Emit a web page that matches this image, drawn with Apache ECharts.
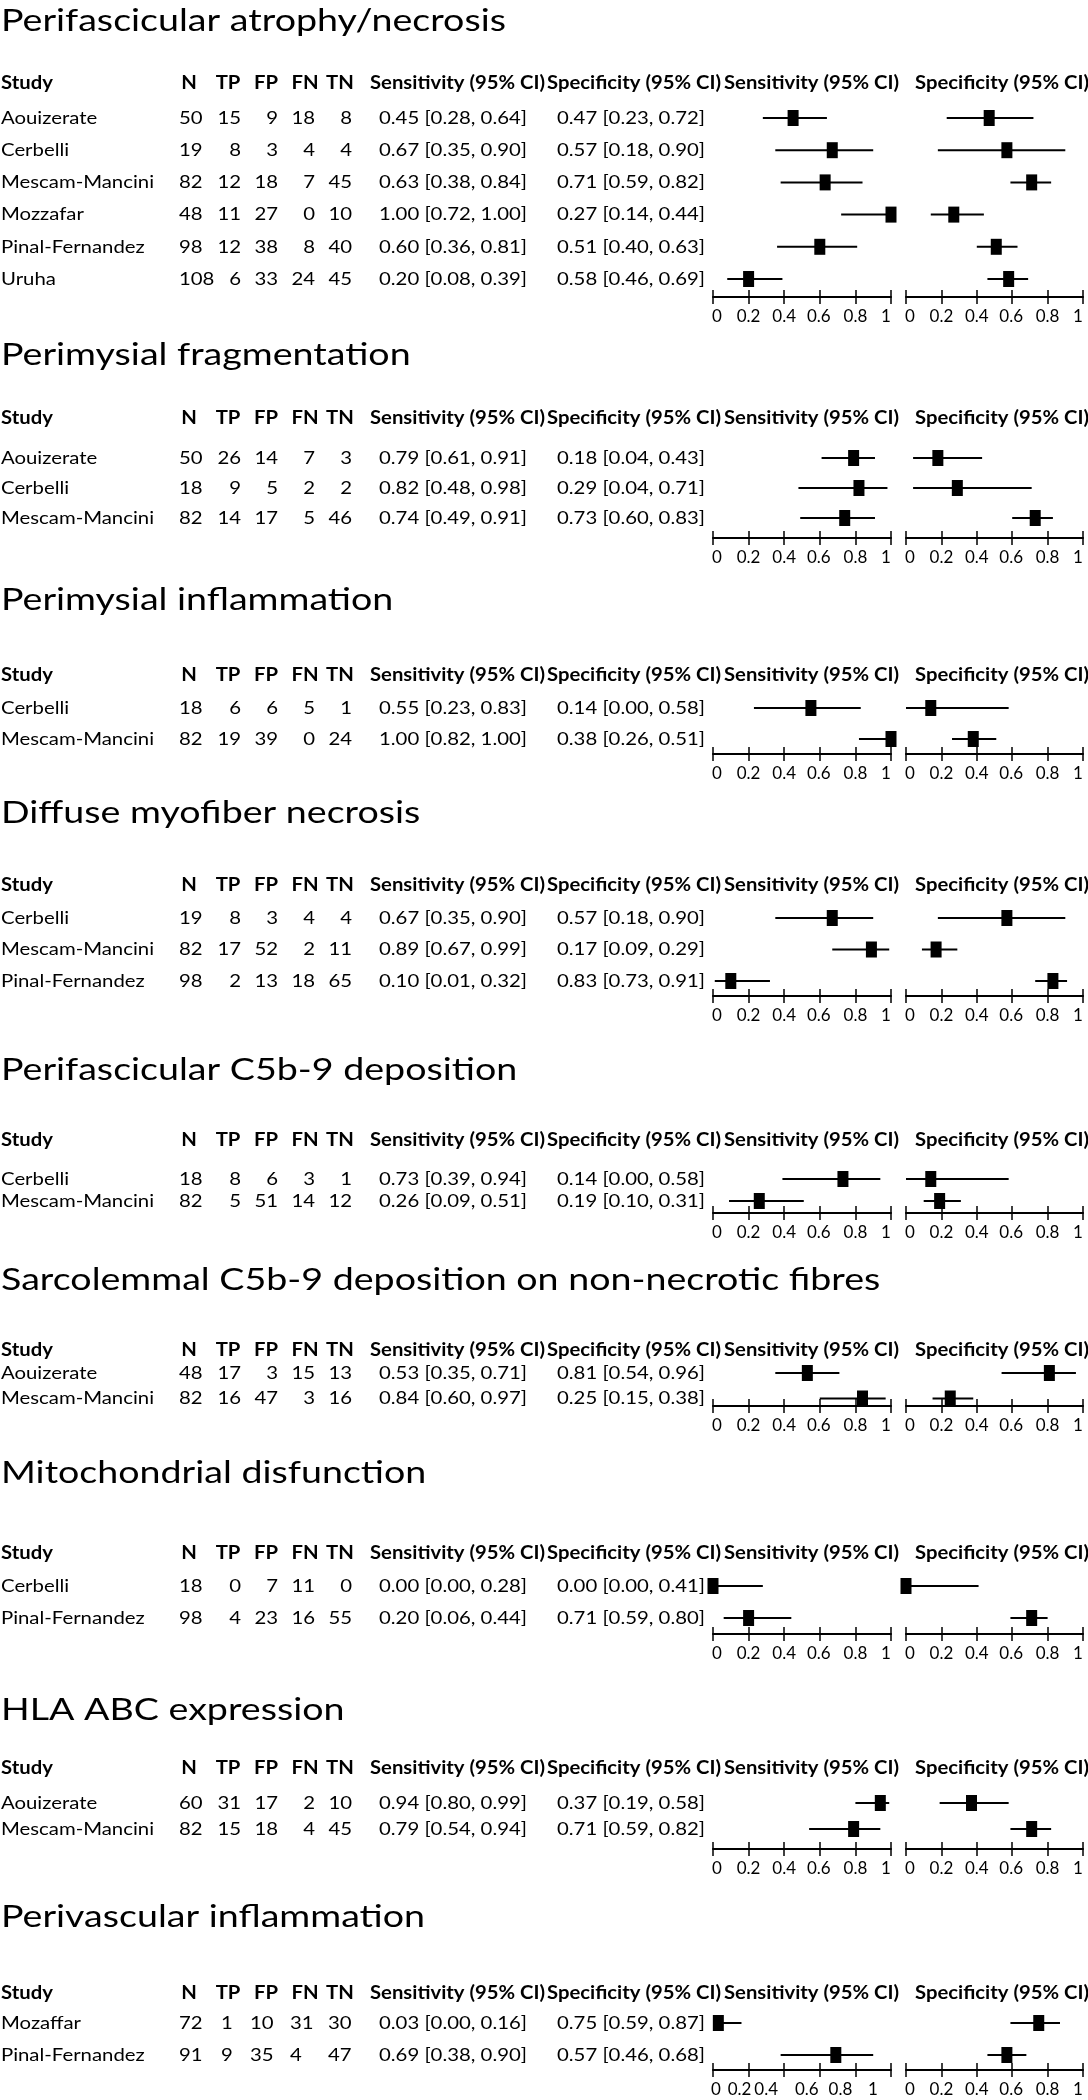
<!DOCTYPE html>
<html><head><meta charset="utf-8">
<script src="https://cdn.jsdelivr.net/npm/echarts@6/dist/echarts.min.js"></script>
<style>html,body{margin:0;padding:0;background:#fff}#c{width:1088px;height:2100px}</style>
</head><body><div id="c"></div>
<script>
// ---------- DATA ----------
const panelTitles = [
  'Perifascicular atrophy/necrosis',
  'Perimysial fragmentation',
  'Perimysial inflammation',
  'Diffuse myofiber necrosis',
  'Perifascicular C5b-9 deposition',
  'Sarcolemmal C5b-9 deposition on non-necrotic fibres',
  'Mitochondrial disfunction',
  'HLA ABC expression',
  'Perivascular inflammation'
];
const headerLabels = ['Study','N','TP','FP','FN','TN','Sensitivity (95% CI)','Specificity (95% CI)','Sensitivity (95% CI)','Specificity (95% CI)'];
const tickLabels = ['0','0.2','0.4','0.6','0.8','1'];

const rowPanel = [0,0,0,0,0,0, 1,1,1, 2,2, 3,3,3, 4,4, 5,5, 6,6, 7,7, 8,8];
const study = ['Aouizerate','Cerbelli','Mescam-Mancini','Mozzafar','Pinal-Fernandez','Uruha',
  'Aouizerate','Cerbelli','Mescam-Mancini',
  'Cerbelli','Mescam-Mancini',
  'Cerbelli','Mescam-Mancini','Pinal-Fernandez',
  'Cerbelli','Mescam-Mancini',
  'Aouizerate','Mescam-Mancini',
  'Cerbelli','Pinal-Fernandez',
  'Aouizerate','Mescam-Mancini',
  'Mozaffar','Pinal-Fernandez'];
const nTotal = [50,19,82,48,98,108, 50,18,82, 18,82, 19,82,98, 18,82, 48,82, 18,98, 60,82, 72,91];
const tp = [15,8,12,11,12,6, 26,9,14, 6,19, 8,17,2, 8,5, 17,16, 0,4, 31,15, 1,9];
const fp = [9,3,18,27,38,33, 14,5,17, 6,39, 3,52,13, 6,51, 3,47, 7,23, 17,18, 10,35];
const fn = [18,4,7,0,8,24, 7,2,5, 5,0, 4,2,18, 3,14, 15,3, 11,16, 2,4, 31,4];
const tn = [8,4,45,10,40,45, 3,2,46, 1,24, 4,11,65, 1,12, 13,16, 0,55, 10,45, 30,47];
const sens   = [0.45,0.67,0.63,1.00,0.60,0.20, 0.79,0.82,0.74, 0.55,1.00, 0.67,0.89,0.10, 0.73,0.26, 0.53,0.84, 0.00,0.20, 0.94,0.79, 0.03,0.69];
const sensLo = [0.28,0.35,0.38,0.72,0.36,0.08, 0.61,0.48,0.49, 0.23,0.82, 0.35,0.67,0.01, 0.39,0.09, 0.35,0.60, 0.00,0.06, 0.80,0.54, 0.00,0.38];
const sensHi = [0.64,0.90,0.84,1.00,0.81,0.39, 0.91,0.98,0.91, 0.83,1.00, 0.90,0.99,0.32, 0.94,0.51, 0.71,0.97, 0.28,0.44, 0.99,0.94, 0.16,0.90];
const spec   = [0.47,0.57,0.71,0.27,0.51,0.58, 0.18,0.29,0.73, 0.14,0.38, 0.57,0.17,0.83, 0.14,0.19, 0.81,0.25, 0.00,0.71, 0.37,0.71, 0.75,0.57];
const specLo = [0.23,0.18,0.59,0.14,0.40,0.46, 0.04,0.04,0.60, 0.00,0.26, 0.18,0.09,0.73, 0.00,0.10, 0.54,0.15, 0.00,0.59, 0.19,0.59, 0.59,0.46];
const specHi = [0.72,0.90,0.82,0.44,0.63,0.69, 0.43,0.71,0.83, 0.58,0.51, 0.90,0.29,0.91, 0.58,0.31, 0.96,0.38, 0.41,0.80, 0.58,0.82, 0.87,0.68];

// ---------- LAYOUT (pixels) ----------
const titleY  = [21, 355, 600, 813, 1070, 1280, 1473, 1710, 1917];
const headerY = [83, 418, 675, 885, 1140, 1350, 1553, 1768, 1993];
const row0    = [118, 458, 708, 918, 1179, 1373, 1586, 1803, 2023];
const rowStep = [32.2, 30, 31, 31.5, 22, 25.5, 32, 26, 32];
const axisY   = [297, 538, 754, 996, 1213, 1406, 1634, 1849, 2070];
const leftAlignCounts = [false,false,false,false,false,false,false,false,true];
const plotLeft = [713, 906], plotWidth = [178, 177];
// horizontal nudges of tick labels (px, + = right)
const labelShiftStd = [4, 0, 0, -1, 0, -5];
const labelShiftOdd = [3, -9, -18, -13, -15, -18];

const ctx = document.createElement('canvas').getContext('2d');
function tw(text, font){ ctx.font = font; return ctx.measureText(text).width; }
const F_T = '30px Lato', F_H = 'bold 18px Lato', F_D = '18px Lato';
const titleScale = 505 / tw(panelTitles[0], F_T);
const headScale  = 175 / tw(headerLabels[6], F_H);
const dataScale  = 148 / tw('0.45 [0.28, 0.64]', F_D);

const chart = echarts.init(document.getElementById('c'), null, {renderer:'canvas', width:1088, height:2100});
const grids=[], xAxes=[], yAxes=[], series=[], graphics=[];

function txt(text, x, y, font, align, sx){
  graphics.push({type:'text', x:x, y:y, scaleX:sx, scaleY:1, silent:true,
    style:{text:String(text), font:font, fill:'#000', align:align, verticalAlign:'middle', textAlign:align, textVerticalAlign:'middle'}});
}
function ci(v, lo, hi){ return v.toFixed(2)+' ['+lo.toFixed(2)+', '+hi.toFixed(2)+']'; }

function renderItem(params, api){
  const y = api.value(0), est = api.value(1), lo = api.value(2), hi = api.value(3);
  const a = api.coord([lo, y]), b = api.coord([hi, y]), c = api.coord([est, y]);
  return {type:'group', children:[
    {type:'line', shape:{x1:a[0], y1:a[1], x2:b[0], y2:b[1]}, style:{stroke:'#000', lineWidth:2}},
    {type:'rect', shape:{x:c[0]-5.5, y:c[1]-8, width:11, height:16}, style:{fill:'#000'}}
  ]};
}

function richFor(shifts){
  const r = {};
  shifts.forEach((d,i)=>{
    r['t'+i] = {fontFamily:'Lato', fontSize:17, color:'#000',
      padding: d >= 0 ? [0,0,0,2*d] : [0,-2*d,0,0]};
  });
  return r;
}

const headX = [1,189,228,266,305,340,370,547,724,915];
const headAlign = ['left','center','center','center','center','center','left','left','left','left'];

for (let p=0; p<panelTitles.length; p++){
  const idx = [];
  rowPanel.forEach((v,i)=>{ if (v===p) idx.push(i); });
  txt(panelTitles[p], 1, titleY[p], F_T, 'left', titleScale);
  headerLabels.forEach((h,j)=> txt(h, headX[j], headerY[p], F_H, headAlign[j], headScale));
  idx.forEach((r,i)=>{
    const y = row0[p] + i*rowStep[p];
    txt(study[r], 1, y, F_D, 'left', dataScale);
    txt(nTotal[r], 179, y, F_D, 'left', dataScale);
    if (leftAlignCounts[p]){
      txt(tp[r], 221, y, F_D, 'left', dataScale);
      txt(fp[r], 250, y, F_D, 'left', dataScale);
      txt(fn[r], 290, y, F_D, 'left', dataScale);
      txt(tn[r], 328, y, F_D, 'left', dataScale);
    } else {
      txt(tp[r], 241, y, F_D, 'right', dataScale);
      txt(fp[r], 278, y, F_D, 'right', dataScale);
      txt(fn[r], 315, y, F_D, 'right', dataScale);
      txt(tn[r], 352, y, F_D, 'right', dataScale);
    }
    txt(ci(sens[r],sensLo[r],sensHi[r]), 379, y, F_D, 'left', dataScale);
    txt(ci(spec[r],specLo[r],specHi[r]), 557, y, F_D, 'left', dataScale);
  });
  const top = row0[p] - rowStep[p]/2;
  const height = axisY[p] - top;
  for (let k=0; k<2; k++){
    const g = grids.length;
    const shifts = (p === 8 && k === 0) ? labelShiftOdd : labelShiftStd;
    grids.push({left:plotLeft[k], top:top, width:plotWidth[k], height:height, containLabel:false, outerBoundsMode:'none'});
    const tickStyle = {color:'#000', width:1.5};
    // main axis: line, downward ticks, labels
    xAxes.push({gridIndex:g, type:'value', min:0, max:1, interval:0.2, position:'bottom',
      axisLine:{show:true, onZero:false, lineStyle:{color:'#000', width:2}},
      axisTick:{show:true, inside:false, length:7, lineStyle:tickStyle},
      axisLabel:{show:true, margin:11, color:'#000', fontFamily:'Lato', fontSize:17,
        formatter:(v)=>{ const i = Math.round(v*5); return '{t'+i+'|'+tickLabels[i]+'}'; },
        rich: richFor(shifts), showMinLabel:true, showMaxLabel:true},
      splitLine:{show:false}});
    // helper axis moved onto the same line: upward ticks
    xAxes.push({gridIndex:g, type:'value', min:0, max:1, interval:0.2, position:'top', offset:-height,
      axisLine:{show:false}, axisTick:{show:true, inside:false, length:7, lineStyle:tickStyle},
      axisLabel:{show:false}, splitLine:{show:false}});
    yAxes.push({gridIndex:g, type:'value', inverse:true, min:-0.5, max:-0.5 + height/rowStep[p], show:false});
    series.push({type:'custom', xAxisIndex:2*g, yAxisIndex:g, clip:false, silent:true,
      renderItem:renderItem, encode:{x:[1,2,3], y:0},
      data: idx.map((r,i)=> k===0 ? [i, sens[r], sensLo[r], sensHi[r]] : [i, spec[r], specLo[r], specHi[r]])});
  }
}

chart.setOption({
  backgroundColor:'#fff',
  animation:false,
  grid:grids, xAxis:xAxes, yAxis:yAxes, series:series,
  graphic:{elements:graphics}
});
</script>
</body></html>
